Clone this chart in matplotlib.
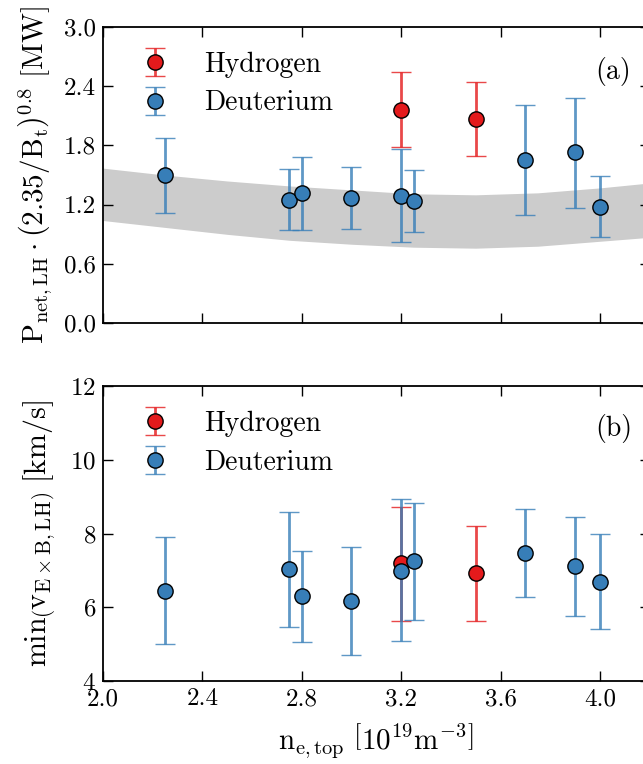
import matplotlib
matplotlib.use("Agg")
import matplotlib.pyplot as plt
from matplotlib.colors import to_rgba

plt.rcParams.update({
    "font.family": "serif",
    "font.serif": ["cmr10"],
    "mathtext.fontset": "cm",
    "axes.unicode_minus": False,
    "axes.formatter.use_mathtext": True,
})

# Deuterium discharges
n_D = [2.25, 2.75, 2.80, 3.00, 3.20, 3.25, 3.70, 3.90, 4.00]
P_D = [1.50, 1.25, 1.32, 1.27, 1.29, 1.24, 1.65, 1.73, 1.18]
P_D_low = [1.12, 0.94, 0.94, 0.95, 0.82, 0.92, 1.10, 1.17, 0.87]
P_D_high = [1.87, 1.56, 1.68, 1.58, 1.76, 1.55, 2.21, 2.28, 1.49]
v_D = [6.45, 7.03, 6.31, 6.17, 6.99, 7.25, 7.47, 7.11, 6.69]
v_D_low = [5.00, 5.47, 5.07, 4.70, 5.09, 5.66, 6.29, 5.76, 5.40]
v_D_high = [7.90, 8.58, 7.53, 7.64, 8.93, 8.84, 8.68, 8.44, 7.98]

# Hydrogen discharges
n_H = [3.20, 3.50]
P_H = [2.16, 2.07]
P_H_low = [1.78, 1.69]
P_H_high = [2.54, 2.44]
v_H = [7.19, 6.92]
v_H_low = [5.63, 5.63]
v_H_high = [8.73, 8.21]

# Scaling-law band
band_n = [2.0, 2.25, 2.5, 2.75, 3.0, 3.25, 3.5, 3.75, 4.0, 4.2]
band_high = [1.57, 1.50, 1.44, 1.39, 1.35, 1.31, 1.30, 1.32, 1.37, 1.42]
band_low = [1.04, 0.97, 0.90, 0.84, 0.80, 0.77, 0.76, 0.78, 0.83, 0.87]

x_ticks = [2.0, 2.4, 2.8, 3.2, 3.6, 4.0]
P_ticks = [0.0, 0.6, 1.2, 1.8, 2.4, 3.0]
v_ticks = [4, 6, 8, 10, 12]

red = "#e41a1c"
blue = "#377eb8"

W, H = 643, 764
fig = plt.figure(figsize=(W / 100, H / 100), dpi=100)
left, right = 103, 649.6
ax_a = fig.add_axes([left / W, 1 - 323.3 / H, (right - left) / W, 296.5 / H])
ax_b = fig.add_axes([left / W, 1 - 681 / H, (right - left) / W, 294.7 / H])


def draw_points(ax, x, y, lo, hi, color, label):
    yerr = [[yy - l for yy, l in zip(y, lo)], [h - yy for yy, h in zip(y, hi)]]
    ax.errorbar(x, y, yerr=yerr, fmt="o", ms=11, mfc=color, mec="k", mew=1.0,
                ecolor=to_rgba(color, 0.8), elinewidth=2.0, capsize=7.5, capthick=2.0,
                label=label, zorder=3)


def style(ax):
    ax.set_xlim(2.0, 4.2)
    ax.set_xticks(x_ticks)
    ax.tick_params(direction="in", length=7.5, width=1.0, top=True, right=True,
                   labelsize=18, pad=5)
    for s in ax.spines.values():
        s.set_linewidth(1.3)


def add_legend(ax):
    ax.legend(loc="upper left", bbox_to_anchor=(0.045, 0.955), frameon=False,
              fontsize=20, numpoints=1, handlelength=1.2, handletextpad=1.15,
              labelspacing=0.45, borderaxespad=0.0)


# (a) threshold power
ax_a.fill_between(band_n, band_low, band_high, color="#cccccc", lw=0, zorder=1)
draw_points(ax_a, n_H, P_H, P_H_low, P_H_high, red, "Hydrogen")
draw_points(ax_a, n_D, P_D, P_D_low, P_D_high, blue, "Deuterium")
style(ax_a)
ax_a.set_ylim(0, 3.0)
ax_a.set_yticks(P_ticks)
ax_a.set_yticklabels([f"{t:.1f}" for t in P_ticks])
ax_a.tick_params(labelbottom=False)
ax_a.set_ylabel(r"$\mathrm{P_{net,LH}\cdot\left(2.35/B_t\right)^{0.8}\ [MW]}$", fontsize=21)
ax_a.yaxis.set_label_coords(-0.088, 0.5)
ax_a.text(0.934, 0.848, "(a)", transform=ax_a.transAxes, fontsize=20,
          ha="center", va="center")
add_legend(ax_a)

# (b) minimum ExB velocity
draw_points(ax_b, n_H, v_H, v_H_low, v_H_high, red, "Hydrogen")
draw_points(ax_b, n_D, v_D, v_D_low, v_D_high, blue, "Deuterium")
style(ax_b)
ax_b.set_ylim(4, 12)
ax_b.set_yticks(v_ticks)
ax_b.set_xticklabels([f"{t:.1f}" for t in x_ticks])
ax_b.set_ylabel(r"$\mathrm{min\left(v_{E\times B,LH}\right)\ [km/s]}$", fontsize=21.5)
ax_b.yaxis.set_label_coords(-0.082, 0.5)
ax_b.set_xlabel(r"$\mathrm{n_{e,top}\ \left[10^{19}m^{-3}\right]}$", fontsize=21,
                labelpad=8)
ax_b.text(0.934, 0.858, "(b)", transform=ax_b.transAxes, fontsize=20,
          ha="center", va="center")
add_legend(ax_b)

fig.savefig("out.png", dpi=100)
